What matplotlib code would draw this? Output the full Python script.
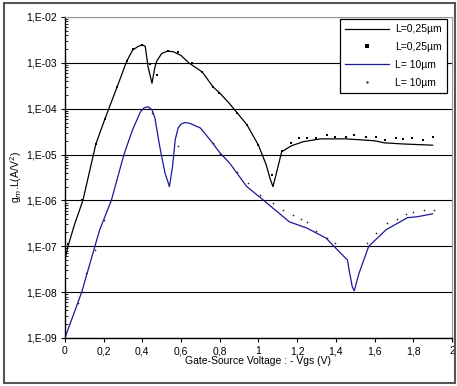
import numpy as np
import matplotlib.pyplot as plt
from matplotlib.ticker import FixedLocator, LogLocator, NullFormatter
from matplotlib.patches import Rectangle

plt.rcParams['font.family'] = ['Liberation Sans', 'DejaVu Sans']

# simulated curve, L = 0.25 um
v_sim_short = [0.0, 0.016, 0.05, 0.093, 0.16, 0.207, 0.27, 0.32, 0.35, 0.38, 0.40, 0.415,
               0.43, 0.45, 0.465, 0.475, 0.50, 0.53, 0.56, 0.60, 0.64, 0.71, 0.765, 0.80,
               0.85, 0.89, 0.94, 1.0, 1.04, 1.06, 1.075, 1.09, 1.12, 1.17, 1.23, 1.32,
               1.45, 1.6, 1.65, 1.75, 1.9]
g_sim_short = [5e-8, 1e-7, 3e-7, 1e-6, 1.7e-5, 6e-5, 3e-4, 1.1e-3, 1.9e-3, 2.3e-3, 2.45e-3, 2.3e-3,
               8e-4, 3.6e-4, 8e-4, 1.1e-3, 1.6e-3, 1.8e-3, 1.75e-3, 1.45e-3, 1e-3, 6.3e-4, 3e-4, 2.2e-4,
               1.3e-4, 8.1e-5, 4.5e-5, 1.6e-5, 6e-6, 3e-6, 2e-6, 3.5e-6, 1.15e-5, 1.55e-5, 1.9e-5,
               2.2e-5, 2.2e-5, 2.0e-5, 1.8e-5, 1.7e-5, 1.6e-5]

# measured points, L = 0.25 um
v_meas_short = [0.0, 0.016, 0.09, 0.159, 0.207, 0.267, 0.319, 0.353, 0.396, 0.44, 0.474,
                0.534, 0.585, 0.655, 0.706, 0.767, 0.796, 0.89, 0.94, 1.0, 1.07, 1.12,
                1.17, 1.21, 1.25, 1.297, 1.354, 1.395, 1.452, 1.494, 1.556, 1.607, 1.654,
                1.711, 1.747, 1.793, 1.85, 1.90]
g_meas_short = [5e-8, 1.1e-7, 1e-6, 1.7e-5, 5.9e-5, 2.9e-4, 1.1e-3, 2e-3, 2.45e-3, 9.3e-4,
                5.5e-4, 1.85e-3, 1.7e-3, 1e-3, 6.4e-4, 2.9e-4, 2.2e-4, 8.1e-5, 4.5e-5, 1.6e-5,
                3.5e-6, 1.2e-5, 1.8e-5, 2.3e-5, 2.3e-5, 2.3e-5, 2.7e-5, 2.4e-5, 2.4e-5, 2.7e-5,
                2.4e-5, 2.4e-5, 2.1e-5, 2.3e-5, 2.2e-5, 2.3e-5, 2.1e-5, 2.4e-5]

# simulated curve, L = 10 um
v_sim_long = [0.0, 0.087, 0.155, 0.18, 0.24, 0.305, 0.35, 0.39, 0.41, 0.43, 0.45, 0.465, 0.49,
              0.517, 0.54, 0.556, 0.57, 0.585, 0.60, 0.62, 0.645, 0.70, 0.75, 0.80, 0.85, 0.94,
              1.01, 1.16, 1.25, 1.35, 1.39, 1.46, 1.47, 1.485, 1.495, 1.52, 1.57, 1.66, 1.77,
              1.82, 1.90]
g_sim_long = [1e-9, 1e-8, 1e-7, 2.3e-7, 1e-6, 1e-5, 3.5e-5, 8.5e-5, 1.05e-4, 1.1e-4, 9.5e-5,
              6.3e-5, 1.5e-5, 4e-6, 2e-6, 5.4e-6, 2.1e-5, 3.8e-5, 4.6e-5, 5e-5, 4.8e-5, 3.8e-5,
              2.1e-5, 1.1e-5, 6.6e-6, 2e-6, 1.15e-6, 3.4e-7, 2.5e-7, 1.5e-7, 1e-7, 5e-8, 2.8e-8,
              1.3e-8, 1.07e-8, 2.6e-8, 1e-7, 2.3e-7, 4.2e-7, 4.4e-7, 5.1e-7]

# measured points, L = 10 um
v_meas_long = [0.067, 0.109, 0.155, 0.20, 0.448, 0.584, 0.765, 0.80, 0.89, 0.946, 1.008,
               1.075, 1.127, 1.178, 1.22, 1.25, 1.30, 1.354, 1.395, 1.56, 1.607, 1.664,
               1.716, 1.762, 1.798, 1.855, 1.907]
g_meas_long = [5.9e-9, 2.6e-8, 8.3e-8, 3.8e-7, 8e-5, 1.5e-5, 1.8e-5, 1.05e-5, 4.2e-6, 2.4e-6,
               1.3e-6, 8.9e-7, 6.3e-7, 4.9e-7, 4e-7, 3.3e-7, 2.1e-7, 1.5e-7, 1.2e-7, 1.2e-7,
               1.9e-7, 3.2e-7, 4e-7, 5.1e-7, 5.6e-7, 6.3e-7, 6.3e-7]

y_exponents = [-9, -8, -7, -6, -5, -4, -3, -2]
y_labels = ['1,E-%02d' % -e for e in y_exponents]
x_ticks = [0, 0.2, 0.4, 0.6, 0.8, 1.0, 1.2, 1.4, 1.6, 1.8, 2.0]
x_labels = ['0', '0,2', '0,4', '0,6', '0,8', '1', '1,2', '1,4', '1,6', '1,8', '2']

fig = plt.figure(figsize=(4.57, 3.86), dpi=100)
ax = fig.add_axes([0.142, 0.1244, 0.847, 0.8316])

ax.plot(v_sim_short, g_sim_short, color='black', lw=0.9, label='L=0,25µm')
ax.plot(v_meas_short, g_meas_short, 's', color='black', ms=1.8, mew=0, label='L=0,25µm')
ax.plot(v_sim_long, g_sim_long, color='#1a1a9a', lw=0.9, label='L= 10µm')
ax.plot(v_meas_long, g_meas_long, 'o', color='#222222', ms=1.2, mew=0, label='L= 10µm')

ax.set_yscale('log')
ax.set_xlim(0, 2)
ax.set_ylim(1e-9, 1e-2)
ax.yaxis.set_major_locator(FixedLocator([10.0 ** e for e in y_exponents]))
ax.set_yticklabels(y_labels)
ax.yaxis.set_minor_locator(LogLocator(base=10, subs=np.arange(2, 10)))
ax.yaxis.set_minor_formatter(NullFormatter())
ax.set_xticks(x_ticks)
ax.set_xticklabels(x_labels)

ax.tick_params(axis='both', which='major', labelsize=7.5, direction='out', length=3, width=0.8, pad=3)
ax.tick_params(axis='y', which='minor', direction='in', length=2.5, width=0.6)
ax.grid(True, axis='y', which='major', color='black', lw=0.8)

for side in ['top', 'right']:
    ax.spines[side].set_color('#999999')
for side in ['left', 'bottom']:
    ax.spines[side].set_linewidth(1.0)

ax.set_xlabel('Gate-Source Voltage : - Vgs (V)', fontsize=7.5, labelpad=0)
ax.set_ylabel('g$_{m}$.L(A/V$^{2}$)', fontsize=7.5, labelpad=1)

leg = ax.legend(loc='upper right', bbox_to_anchor=(1.0, 1.01), fontsize=7.5, frameon=True,
                fancybox=False, edgecolor='black', framealpha=1, handlelength=4.2,
                borderpad=0.5, labelspacing=0.75, handletextpad=0.6, markerscale=1.4)
leg.get_frame().set_linewidth(0.9)

fig.patches.append(Rectangle((0.008, 0.008), 0.988, 0.984, transform=fig.transFigure,
                             fill=False, edgecolor='#555555', lw=1.5))

fig.savefig('out.png', dpi=100)
